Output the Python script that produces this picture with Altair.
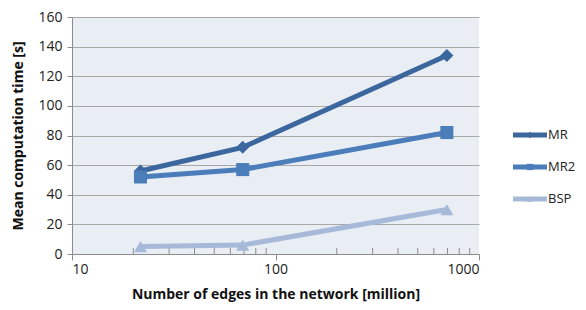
import altair as alt
import pandas as pd

series = ["MR", "MR2", "BSP"]
edges = [21.7, 69, 695]
mr = [56, 72, 134]
mr2 = [52, 57, 82]
bsp = [5, 6, 30]
minor_ticks = [20, 30, 40, 50, 60, 70, 80, 90, 200, 300, 400, 500, 600, 700, 800, 900]
major_ticks = [10, 100, 1000]
colors = ["#3C679E", "#4A7DBA", "#A6B9D8"]
shapes = ["diamond", "square", "triangle-up"]

rows = []
for name, vals in zip(series, [mr, mr2, bsp]):
    for e, v in zip(edges, vals):
        rows.append({"series": name, "edges": e, "time": v})
df = pd.DataFrame(rows)
minor_df = pd.DataFrame({"x": minor_ticks})
leg_df = pd.DataFrame({"series": series})

FONT = "Open Sans"
W, H = 407, 237

xscale = alt.Scale(type="log", domain=[10, 1000])
yscale = alt.Scale(domain=[0, 160])
cscale = alt.Scale(domain=series, range=colors)
sscale = alt.Scale(domain=series, range=shapes)

base = alt.Chart(df).encode(
    x=alt.X("edges:Q", scale=xscale,
            axis=alt.Axis(title="Number of edges in the network [million]", values=major_ticks,
                          format="d", grid=False, domainColor="#8C8C8C", tickColor="#8C8C8C",
                          tickSize=6, labelPadding=2, titlePadding=11)),
    y=alt.Y("time:Q", scale=yscale,
            axis=alt.Axis(title="Mean computation time [s]", values=list(range(0, 161, 20)),
                          grid=True, gridColor="#A8A8A8", domainColor="#8C8C8C",
                          tickColor="#8C8C8C", tickSize=5, labelPadding=5, titlePadding=12)),
    color=alt.Color("series:N", scale=cscale, legend=None),
)

lines = base.mark_line(strokeWidth=5)
points = base.mark_point(filled=True, opacity=1, size=170).encode(
    shape=alt.Shape("series:N", scale=sscale, legend=None)
)
minor = alt.Chart(minor_df).mark_rule(color="#8C8C8C", strokeWidth=1).encode(
    x=alt.X("x:Q", scale=xscale),
    y=alt.value(H - 6), y2=alt.value(H)
)
main = alt.layer(minor, lines, points)

ly = alt.Y("series:N", scale=alt.Scale(domain=series, type="point", range=[118, 182], padding=0), axis=None)
lc = alt.Color("series:N", scale=cscale, legend=None)
leg_base = alt.Chart(leg_df)
leg_line = leg_base.mark_rule(strokeWidth=5).encode(
    x=alt.value(441), x2=alt.value(475), y=ly, color=lc)
leg_pt = leg_base.mark_point(filled=True, opacity=1, size=40).encode(
    x=alt.value(458), y=ly, color=lc,
    shape=alt.Shape("series:N", scale=sscale, legend=None))
leg_txt = leg_base.mark_text(align="left", baseline="middle", font=FONT, fontSize=13, color="#222222").encode(
    x=alt.value(476), y=ly, text="series:N")
legend = alt.layer(leg_line, leg_pt, leg_txt)

chart = alt.layer(main, legend).resolve_scale(y="independent").properties(
    width=W, height=H,
    autosize=alt.AutoSizeParams(type="none"),
    padding={"left": 64, "top": 9, "right": 99, "bottom": 48},
).configure_view(
    fill="#E9EDF4", stroke=None
).configure_axis(
    labelFont=FONT, titleFont=FONT, labelFontSize=14, titleFontSize=14,
    labelColor="#222222", titleColor="#111111", titleFontWeight="bold"
)

chart.save("out.html", embed_options={"renderer": "svg", "actions": False})
